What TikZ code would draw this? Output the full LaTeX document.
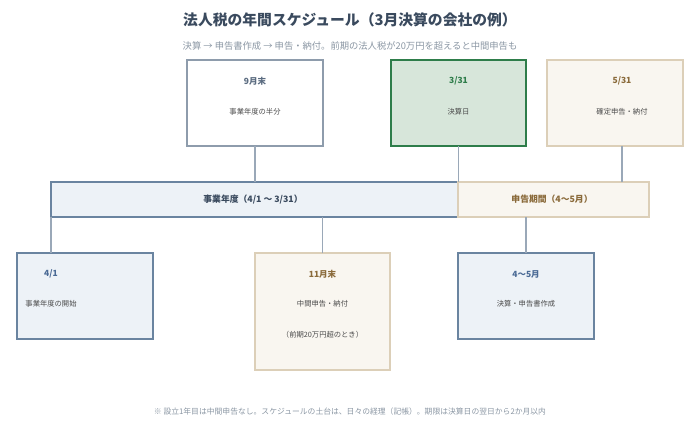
\documentclass[tikz,border=0pt]{standalone}
\usepackage{fontspec}
\newfontfamily\jp{Noto Sans CJK JP}
\definecolor{titlec}{HTML}{3A4A5E}
\definecolor{subc}{HTML}{8A96A3}
\definecolor{bodyc}{HTML}{4A4A4A}
\definecolor{connc}{HTML}{9AA8B8}
\definecolor{grayb}{HTML}{8E9CAC}
\definecolor{grayh}{HTML}{5A6B80}
\definecolor{greenf}{HTML}{D7E6DA}
\definecolor{greenb}{HTML}{2E7D4A}
\definecolor{tanf}{HTML}{F9F6F0}
\definecolor{tanb}{HTML}{DCCFB8}
\definecolor{tanh}{HTML}{8A6A3A}
\definecolor{bluef}{HTML}{EDF2F7}
\definecolor{blueb}{HTML}{6A84A0}
\definecolor{blueh}{HTML}{4A6A95}
\tikzset{
  every node/.style={font=\jp, inner sep=0pt, outer sep=0pt},
  conn/.style={draw=connc, line width=1.2pt},
  boxbase/.style={anchor=north west, line width=1.2pt},
  plainbox/.style={boxbase, draw=grayb, fill=white},
  greenbox/.style={boxbase, draw=greenb, fill=greenf, line width=1.8pt},
  tanbox/.style={boxbase, draw=tanb, fill=tanf},
  bluebox/.style={boxbase, draw=blueb, fill=bluef},
  hdr/.style={font=\jp\fontsize{8.5}{10}\selectfont\bfseries},
  body/.style={font=\jp\fontsize{7.3}{9}\selectfont, text=bodyc},
  bartext/.style={font=\jp\fontsize{8.8}{10}\selectfont\bfseries},
}
\begin{document}
\begin{tikzpicture}[x=1pt,y=-1pt]
\useasboundingbox (0,0) rectangle (700,447);
% title
\node[font=\jp\fontsize{14.8}{17}\selectfont\bfseries, text=titlec] (title) at (350,20) {法人税の年間スケジュール（3月決算の会社の例）};
\node[font=\jp\fontsize{9.3}{11}\selectfont, text=subc] (sub) at (350,46) {決算 → 申告書作成 → 申告・納付。前期の法人税が20万円を超えると中間申告も};
% top boxes
\node[plainbox, minimum width=136pt, minimum height=86pt] (b9) at (187,60) {};
\node[greenbox, minimum width=135pt, minimum height=86pt] (b331) at (391,60) {};
\node[tanbox, minimum width=136pt, minimum height=86pt] (b531) at (547,60) {};
\node[hdr, text=grayh] (t9h) at (255,81) {9月末};
\node[body] (t9b) at (255,112) {事業年度の半分};
\node[hdr, text=greenb] (t331h) at (458.5,81) {3/31};
\node[body] (t331b) at (458.5,112) {決算日};
\node[hdr, text=tanh] (t531h) at (622,81) {5/31};
\node[body] (t531b) at (622,112) {確定申告・納付};
% bars
\node[bluebox, line width=1.5pt, minimum width=407pt, minimum height=35pt] (barA) at (51,182) {};
\node[tanbox, minimum width=191pt, minimum height=35pt] (barB) at (458,182) {};
\node[bartext, text=titlec] (tA) at (253,199.5) {事業年度（4/1 〜 3/31）};
\node[bartext, text=tanh] (tB) at (552,199.5) {申告期間（4〜5月）};
% bottom boxes
\node[bluebox, minimum width=136pt, minimum height=86pt] (b41) at (17,253) {};
\node[tanbox, minimum width=135pt, minimum height=117pt] (b11) at (255,253) {};
\node[bluebox, minimum width=136pt, minimum height=86pt] (b45) at (458,253) {};
\node[hdr, text=blueh] (t41h) at (51,274) {4/1};
\node[body] (t41b) at (51,304) {事業年度の開始};
\node[hdr, text=tanh] (t11h) at (322.5,274) {11月末};
\node[body] (t11b) at (322.5,304) {中間申告・納付};
\node[body] (t11c) at (322.5,335) {（前期20万円超のとき）};
\node[hdr, text=blueh] (t45h) at (526,274) {4〜5月};
\node[body] (t45b) at (526,304) {決算・申告書作成};
% connectors
\draw[conn] (b9.south) -- (b9.south |- barA.north);
\draw[conn] (b331.south) -- (b331.south |- barA.north);
\draw[conn] (t531h |- b531.south) -- (t531h |- barB.north);
\draw[conn] (barA.south west) -- (barA.south west |- b41.north);
\draw[conn] (b11.north) -- (b11.north |- barA.south);
\draw[conn] (b45.north) -- (b45.north |- barB.south);
% footnote
\node[font=\jp\fontsize{7.8}{9}\selectfont, text=subc] (foot) at (350,412) {※ 設立1年目は中間申告なし。スケジュールの土台は、日々の経理（記帳）。期限は決算日の翌日から2か月以内};
\end{tikzpicture}
\end{document}
